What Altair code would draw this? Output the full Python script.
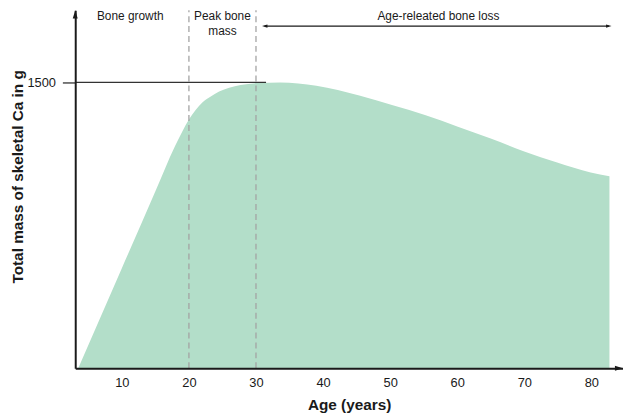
import altair as alt
import pandas as pd

# ---- data ----
age = [3.5, 10, 15, 17.9, 19, 20, 21, 22, 23.2, 24.5, 26, 27.7, 30.3, 33.6,
       39.0, 45.4, 50.4, 55.3, 60.1, 65.1, 70.0, 74.9, 79.9, 82.7]
mass = [0, 525, 929, 1164, 1242, 1305, 1355, 1395, 1425, 1452, 1472, 1487,
        1497, 1500, 1483, 1432, 1380, 1328, 1268, 1204, 1138, 1080, 1028, 1008]
phase_bounds = [20, 30]
x_tick_values = [10, 20, 30, 40, 50, 60, 70, 80]
y_tick_values = [1500]
peak_line_end = 31.5
phase_labels = ["Bone growth", "Peak bone\nmass", "Age-releated bone loss"]
phase_label_x = [11.25, 25.0, 57.2]
loss_arrow_x = [31.3, 82.6]

X_DOMAIN = [3.05, 84.72]
Y_DOMAIN = [0, 1879]
TEXT_Y = 1876
ARROW_Y = 1796

FONT = "Liberation Sans"
INK = "#1a1a1a"

xs = alt.Scale(domain=X_DOMAIN, nice=False, zero=False)
ys = alt.Scale(domain=Y_DOMAIN, nice=False, zero=False)

X_AXIS = alt.Axis(
    values=x_tick_values, title="Age (years)", grid=False, ticks=False,
    domainColor=INK, domainWidth=2, labelFont=FONT,
    labelFontSize=13, labelColor=INK, labelPadding=9,
    titleFont=FONT, titleFontSize=15.5, titleFontWeight="bold",
    titleColor=INK, titleY=42, titleBaseline="alphabetic", zindex=1)
Y_AXIS = alt.Axis(
    values=y_tick_values, format="d", title="Total mass of skeletal Ca in g",
    grid=False, tickSize=13, tickColor="#333333", tickWidth=1.3,
    labelPadding=7, labelFont=FONT, labelFontSize=13, labelColor=INK,
    domainColor=INK, domainWidth=2, titleFont=FONT, titleFontSize=15.5,
    titleFontWeight="bold", titleColor=INK, titleX=-58, titleY=168,
    titleAngle=270, titleAlign="center", titleBaseline="middle",
    zindex=1)


def X(field):
    return alt.X(field, scale=xs, axis=X_AXIS)


def Y(field):
    return alt.Y(field, scale=ys, axis=Y_AXIS)


curve = pd.DataFrame({"age": age, "mass": mass})

area = alt.Chart(curve).mark_area(
    color="#b3dec9", opacity=1, interpolate="monotone"
).encode(x=X("age:Q"), y=Y("mass:Q"))

bounds = alt.Chart(pd.DataFrame({"age": phase_bounds, "lo": [Y_DOMAIN[0]] * 2,
                                 "hi": [Y_DOMAIN[1]] * 2})).mark_rule(
    color="#a3a3a3", strokeDash=[6, 4], strokeWidth=1.3
).encode(x=X("age:Q"), y=Y("lo:Q"), y2="hi:Q")

peak_line = alt.Chart(pd.DataFrame({"x0": [X_DOMAIN[0]], "x1": [peak_line_end],
                                    "m": y_tick_values})).mark_rule(
    color="#333333", strokeWidth=1.3
).encode(x=X("x0:Q"), x2="x1:Q", y=Y("m:Q"))

UP = "M0,-1L-0.6,1L0.6,1Z"
RIGHT = "M1,0L-1,-0.6L-1,0.6Z"
LEFT = "M-1,0L1,-0.6L1,0.6Z"

y_arrow = alt.Chart(pd.DataFrame({"x": [X_DOMAIN[0]], "y": [1858]})).mark_point(
    shape=UP, filled=True, color=INK, size=70, opacity=1
).encode(x=X("x:Q"), y=Y("y:Q"))

x_arrow = alt.Chart(pd.DataFrame({"x": [84.13], "y": [0]})).mark_point(
    shape=RIGHT, filled=True, color=INK, size=70, opacity=1
).encode(x=X("x:Q"), y=Y("y:Q"))

loss_line = alt.Chart(pd.DataFrame({"x0": [loss_arrow_x[0]], "x1": [loss_arrow_x[1]],
                                    "y": [ARROW_Y]})).mark_rule(
    color=INK, strokeWidth=1.2
).encode(x=X("x0:Q"), x2="x1:Q", y=Y("y:Q"))

loss_heads = alt.Chart(pd.DataFrame({"x": loss_arrow_x, "y": [ARROW_Y] * 2,
                                     "dir": ["l", "r"]}))
left_head = loss_heads.transform_filter(alt.datum.dir == "l").mark_point(
    shape=LEFT, filled=True, color=INK, size=30, opacity=1
).encode(x=X("x:Q"), y=Y("y:Q"))
right_head = loss_heads.transform_filter(alt.datum.dir == "r").mark_point(
    shape=RIGHT, filled=True, color=INK, size=30, opacity=1
).encode(x=X("x:Q"), y=Y("y:Q"))

labels = alt.Chart(pd.DataFrame({"x": phase_label_x, "y": [TEXT_Y] * 3,
                                 "t": phase_labels})).mark_text(
    font=FONT, fontSize=12, color=INK, baseline="top", align="center",
    lineBreak="\n", lineHeight=15
).encode(x=X("x:Q"), y=Y("y:Q"), text="t:N")

chart = alt.layer(
    area, bounds, peak_line, y_arrow, x_arrow, loss_line, left_head, right_head, labels
).properties(
    width=554, height=362,
    autosize=alt.AutoSizeParams(type="none"),
    padding={"left": 68, "top": 0, "right": 0, "bottom": 44},
    background="white",
).configure_view(stroke=None)

chart.save("out.html", embed_options={"renderer": "svg", "actions": False})
